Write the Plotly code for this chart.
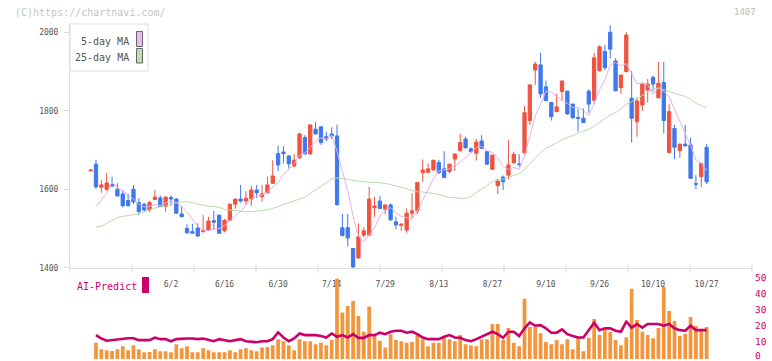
import plotly.graph_objects as go
import pandas as pd

# ---------------- data ----------------
tick_idx = [15, 25, 35, 45, 55, 65, 75, 85, 95, 105, 115]
tick_text = ["6/2", "6/16", "6/30", "7/14", "7/29", "8/13", "8/27", "9/10", "9/26", "10/10", "10/27"]
vol_ticks = [0, 10, 20, 30, 40, 50]

opens = [1647, 1664, 1605, 1600, 1612, 1600, 1588, 1571, 1600, 1566,
         1562, 1547, 1574, 1578, 1556, 1579, 1575, 1537, 1500, 1492,
         1501, 1492, 1496, 1520, 1534, 1494, 1521, 1562, 1575, 1570,
         1575, 1598, 1581, 1591, 1615, 1691, 1695, 1685, 1659, 1680,
         1732, 1690, 1753, 1759, 1734, 1741, 1736, 1502, 1502, 1449,
         1425, 1483, 1483, 1553, 1570, 1549, 1560, 1517, 1508, 1496,
         1539, 1545, 1642, 1643, 1649, 1668, 1652, 1645, 1677, 1698,
         1728, 1703, 1692, 1723, 1696, 1651, 1609, 1631, 1636, 1668,
         1664, 1693, 1775, 1904, 1917, 1861, 1821, 1798, 1849, 1850,
         1817, 1783, 1781, 1850, 1827, 1902, 1951, 2000, 1927, 1859,
         1900, 1832, 1772, 1815, 1853, 1885, 1833, 1872, 1693, 1755,
         1698, 1715, 1713, 1614, 1632, 1707]
highs = [1650, 1675, 1623, 1642, 1632, 1615, 1598, 1588, 1611, 1577,
         1565, 1570, 1598, 1584, 1581, 1585, 1577, 1557, 1511, 1512,
         1513, 1534, 1530, 1545, 1535, 1524, 1563, 1576, 1611, 1595,
         1609, 1611, 1611, 1632, 1674, 1711, 1710, 1686, 1690, 1744,
         1738, 1765, 1772, 1761, 1747, 1758, 1765, 1537, 1537, 1450,
         1513, 1503, 1606, 1581, 1583, 1561, 1564, 1530, 1513, 1551,
         1590, 1618, 1676, 1666, 1675, 1675, 1697, 1665, 1691, 1742,
         1734, 1707, 1728, 1738, 1697, 1688, 1626, 1635, 1725, 1696,
         1690, 1812, 1867, 1925, 1948, 1877, 1823, 1843, 1877, 1851,
         1818, 1805, 1806, 1855, 1948, 1967, 1968, 2018, 1934, 1892,
         2000, 1901, 1834, 1869, 1881, 1890, 1925, 1925, 1817, 1764,
         1716, 1764, 1732, 1636, 1667, 1715]
lows = [1646, 1601, 1591, 1596, 1606, 1581, 1554, 1556, 1562, 1534,
        1543, 1542, 1573, 1555, 1543, 1558, 1537, 1529, 1487, 1487,
        1478, 1489, 1495, 1496, 1486, 1490, 1519, 1550, 1566, 1561,
        1558, 1577, 1568, 1589, 1614, 1646, 1666, 1653, 1657, 1678,
        1688, 1688, 1740, 1713, 1723, 1728, 1558, 1480, 1454, 1397,
        1423, 1478, 1482, 1530, 1549, 1536, 1520, 1498, 1494, 1489,
        1526, 1537, 1619, 1641, 1648, 1639, 1628, 1640, 1647, 1697,
        1702, 1692, 1673, 1703, 1662, 1649, 1588, 1598, 1625, 1664,
        1657, 1685, 1764, 1866, 1833, 1824, 1775, 1796, 1826, 1790,
        1781, 1747, 1769, 1795, 1817, 1900, 1904, 1934, 1850, 1843,
        1898, 1719, 1734, 1800, 1821, 1849, 1832, 1742, 1692, 1677,
        1680, 1707, 1627, 1600, 1605, 1613]
closes = [1649, 1606, 1611, 1616, 1608, 1583, 1558, 1558, 1568, 1543,
          1547, 1566, 1580, 1556, 1580, 1575, 1539, 1530, 1489, 1488,
          1481, 1494, 1519, 1516, 1488, 1521, 1562, 1575, 1570, 1577,
          1598, 1591, 1588, 1611, 1634, 1662, 1691, 1665, 1674, 1741,
          1690, 1764, 1741, 1719, 1728, 1736, 1561, 1482, 1476, 1402,
          1479, 1494, 1575, 1557, 1551, 1560, 1522, 1509, 1511, 1539,
          1545, 1617, 1649, 1652, 1674, 1642, 1630, 1664, 1690, 1719,
          1706, 1696, 1720, 1704, 1664, 1687, 1621, 1619, 1662, 1689,
          1663, 1795, 1866, 1919, 1843, 1826, 1785, 1810, 1876, 1792,
          1782, 1781, 1770, 1817, 1935, 1963, 1910, 1957, 1851, 1891,
          1993, 1781, 1825, 1868, 1868, 1868, 1870, 1775, 1798, 1707,
          1715, 1711, 1628, 1613, 1666, 1619]

# moving-average values before enough closes are on the chart
ma5_head = [None, 1556, 1573, 1590]
ma25_head = [None, 1504, 1506, 1513, 1521, 1528, 1531, 1533, 1535, 1537,
             1542, 1548, 1552, 1555, 1557, 1561, 1566, 1568, 1568, 1566,
             1562, 1560, 1557, 1556]

volume = [None, 10.0, 6.0, 5.4, 5.0, 6.0, 7.9, 5.4, 8.5, 6.0,
          4.2, 4.4, 6.0, 4.8, 4.8, 4.2, 9.2, 6.7, 7.9, 4.2,
          4.2, 6.7, 5.4, 4.2, 4.2, 4.2, 5.4, 4.2, 6.0, 6.7,
          5.4, 4.8, 7.1, 7.5, 8.5, 12.3, 11.0, 8.5, 5.4, 12.3,
          11.0, 11.0, 9.2, 10.0, 8.5, 11.7, 49.8, 28.8, 32.9, 36.0,
          26.7, 16.9, 32.5, 14.2, 11.3, 7.1, 15.4, 11.7, 11.0, 10.0,
          10.6, 14.8, 12.3, 7.9, 10.0, 10.0, 13.8, 12.3, 11.0, 14.8,
          9.2, 8.5, 7.9, 12.3, 12.3, 21.7, 21.7, 11.7, 19.2, 10.0,
          7.9, 37.3, 19.8, 19.8, 16.0, 10.6, 9.2, 11.7, 9.2, 12.3,
          6.0, 13.5, 4.8, 13.1, 24.8, 14.8, 17.9, 16.9, 11.7, 8.5,
          13.5, 43.5, 24.2, 16.9, 14.8, 12.9, 19.2, 44.8, 29.8, 23.5,
          14.2, 15.6, 26.0, 20.4, 17.3, 19.8]

ai_predict = [None, 14.8, 12.7, 11.3, 11.7, 12.5, 12.9, 12.9, 12.9, 11.7,
              11.7, 11.7, 13.3, 12.3, 12.3, 11.0, 12.3, 12.7, 12.7, 12.7,
              12.3, 12.7, 11.7, 11.0, 12.3, 11.7, 11.0, 11.7, 12.3, 11.0,
              10.8, 10.4, 11.0, 11.0, 12.3, 16.5, 13.3, 11.0, 12.7, 15.8,
              14.8, 14.8, 14.8, 14.2, 13.3, 15.8, 13.8, 14.8, 13.3, 15.4,
              13.1, 13.1, 14.8, 14.8, 16.3, 15.4, 16.9, 17.5, 17.5, 16.3,
              16.9, 15.4, 13.3, 12.3, 12.3, 12.3, 13.8, 14.8, 13.3, 13.1,
              11.7, 11.0, 12.3, 13.8, 15.4, 16.9, 15.4, 13.1, 16.9, 16.9,
              14.2, 19.0, 22.7, 20.6, 21.0, 19.0, 16.3, 16.3, 18.3, 15.4,
              14.2, 13.3, 13.3, 17.9, 22.5, 17.9, 19.0, 19.0, 17.5, 16.9,
              23.1, 19.4, 21.7, 19.4, 21.7, 21.7, 21.7, 20.6, 21.7, 19.0,
              17.9, 17.5, 20.6, 17.9, 17.9, 17.9]

idx = list(range(len(closes)))

s = pd.Series(closes, dtype=float)
r5 = s.rolling(5).mean().round(1).tolist()
r25 = s.rolling(25).mean().round(1).tolist()
ma5 = ma5_head + r5[len(ma5_head):]
ma25 = ma25_head + r25[len(ma25_head):]

# ---------------- style ----------------
UP = "#f0533f"
DOWN = "#3f78ec"
MA5_C = "#e6b0e6"
MA25_C = "#b5dcab"
VOL_C = "#f2963e"
AI_C = "#cc0066"
AX_C = "#dddddd"
TXT = "#555555"
FONT = "DejaVu Sans Mono"

L, R, T, B = 70, 752, 24, 359
def px(x):
    return (x - L) / (R - L)
def py(y):
    return (B - y) / (B - T)

fig = go.Figure()

fig.add_trace(go.Scatter(x=idx, y=ma25, mode="lines", line=dict(color=MA25_C, width=1),
                         xaxis="x", yaxis="y", hoverinfo="skip", showlegend=False))
fig.add_trace(go.Scatter(x=idx, y=ma5, mode="lines", line=dict(color=MA5_C, width=1),
                         xaxis="x", yaxis="y", hoverinfo="skip", showlegend=False))
fig.add_trace(go.Candlestick(
    x=idx, open=opens, high=highs, low=lows, close=closes,
    increasing=dict(line=dict(color=UP, width=1), fillcolor=UP),
    decreasing=dict(line=dict(color=DOWN, width=1), fillcolor=DOWN),
    whiskerwidth=0, xaxis="x", yaxis="y", showlegend=False))

fig.add_trace(go.Bar(x=idx, y=volume, marker=dict(color=VOL_C, line=dict(width=0)),
                     width=0.7, xaxis="x2", yaxis="y2", showlegend=False))
fig.add_trace(go.Scatter(x=idx, y=ai_predict, mode="lines", line=dict(color=AI_C, width=2.6),
                         xaxis="x2", yaxis="y2", showlegend=False))

xr = [-3.85, 123.47]

shapes = []
# decorative ticks along the bottom axis
for k in range(12):
    shapes.append(dict(type="line", xref="paper", yref="paper", x0=k / 11, x1=k / 11,
                       y0=py(264.5), y1=py(272.5), line=dict(color=AX_C, width=1)))
# legend box
shapes.append(dict(type="rect", xref="paper", yref="paper", x0=px(70), x1=px(148),
                   y0=py(71), y1=py(24), line=dict(color=AX_C, width=1), fillcolor="white",
                   layer="above"))
shapes.append(dict(type="rect", xref="paper", yref="paper", x0=px(136.5), x1=px(142.5),
                   y0=py(46.5), y1=py(31.5), line=dict(color="#666666", width=1),
                   fillcolor="#ebb9eb", layer="above"))
shapes.append(dict(type="rect", xref="paper", yref="paper", x0=px(136.5), x1=px(142.5),
                   y0=py(63), y1=py(48.5), line=dict(color="#666666", width=1),
                   fillcolor="#bbdfb1", layer="above"))
# AI-Predict marker
shapes.append(dict(type="rect", xref="paper", yref="paper", x0=px(142), x1=px(149),
                   y0=py(293), y1=py(277), line=dict(width=0), fillcolor=AI_C))

annotations = [
    dict(text="(C)https://chartnavi.com/", xref="paper", yref="paper", x=px(13), y=py(12),
         xanchor="left", yanchor="middle", showarrow=False,
         font=dict(family=FONT, size=10, color="#c4c4c4")),
    dict(text="1407", xref="paper", yref="paper", x=px(758), y=py(12),
         xanchor="right", yanchor="middle", showarrow=False,
         font=dict(family=FONT, size=9, color="#bbbbbb")),
    dict(text="5-day MA", xref="paper", yref="paper", x=px(131), y=py(41.5),
         xanchor="right", yanchor="middle", showarrow=False,
         font=dict(family=FONT, size=10, color=TXT)),
    dict(text="25-day MA", xref="paper", yref="paper", x=px(131), y=py(57),
         xanchor="right", yanchor="middle", showarrow=False,
         font=dict(family=FONT, size=10, color=TXT)),
    dict(text="AI-Predict", xref="paper", yref="paper", x=px(75), y=py(286),
         xanchor="left", yanchor="middle", showarrow=False,
         font=dict(family=FONT, size=10, color=AI_C)),
]
# right-hand scale of the lower panel
for v in vol_ticks:
    annotations.append(dict(text=str(v), xref="paper", yref="y2", x=px(753), y=v,
                            xanchor="left", yanchor="middle", showarrow=False,
                            yshift=1 if v > 0 else 4,
                            font=dict(family=FONT, size=9.5, color=AI_C)))

fig.update_layout(
    width=772, height=361,
    margin=dict(l=L, r=772 - R, t=T, b=361 - B, pad=0, autoexpand=False),
    paper_bgcolor="white", plot_bgcolor="white",
    showlegend=False, boxgap=0.12,
    font=dict(family=FONT, size=8, color=TXT),
    xaxis=dict(domain=[0, 1], anchor="y", range=xr, showgrid=False, zeroline=False,
               showline=True, linecolor=AX_C, linewidth=1,
               tickmode="array", tickvals=tick_idx, ticktext=tick_text,
               ticks="outside", ticklen=8, tickcolor="rgba(0,0,0,0)",
               tickfont=dict(family=FONT, size=8, color=TXT), automargin=False,
               rangeslider=dict(visible=False), fixedrange=True),
    yaxis=dict(domain=[py(268.3), 1], anchor="x", range=[1398.5, 2021.2],
               showgrid=False, zeroline=False, showline=True, linecolor=AX_C, linewidth=1,
               tickmode="array", tickvals=[1400, 1600, 1800, 2000], automargin=False,
               ticks="outside", ticklen=5, tickcolor=AX_C, ticklabelstandoff=4,
               tickfont=dict(family=FONT, size=8, color=TXT)),
    xaxis2=dict(domain=[0, 1], anchor="y2", range=xr, visible=False, automargin=False),
    yaxis2=dict(domain=[0, py(278.3)], anchor="x2", side="right", range=[0, 50],
                showgrid=False, zeroline=False, showline=False, automargin=False,
                showticklabels=False, ticks=""),
    shapes=shapes, annotations=annotations,
)

fig.write_html("out.html", config={"displayModeBar": False},
               post_script="document.body.style.margin='0';document.body.style.overflow='hidden';")
